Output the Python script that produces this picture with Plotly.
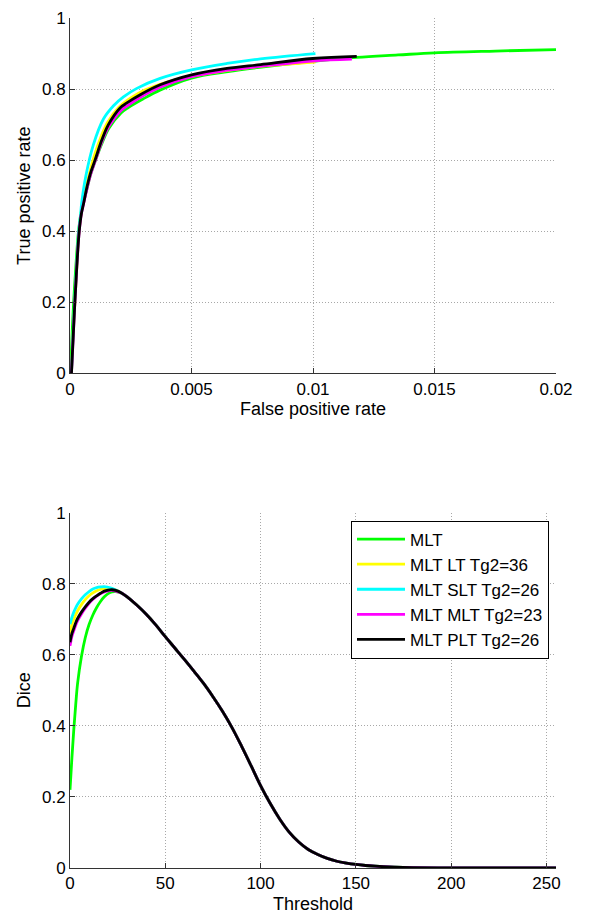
import plotly.graph_objects as go

# ---------------- ROC data (top panel) ----------------
roc_fpr_mlt = [0.00003, 0.00008, 0.00015, 0.00024, 0.00035, 0.00045, 0.00055, 0.0007, 0.00085, 0.00105,
               0.0013, 0.0016, 0.0021, 0.0024, 0.003, 0.0037, 0.005, 0.0065, 0.0078, 0.01, 0.0118,
               0.0135, 0.015, 0.0175, 0.02]
roc_tpr_mlt = [0, 0.1, 0.2, 0.3, 0.4, 0.45, 0.48, 0.52, 0.56, 0.6,
               0.645, 0.69, 0.733, 0.748, 0.772, 0.797, 0.831, 0.849, 0.861, 0.878, 0.889,
               0.896, 0.902, 0.907, 0.911]

roc_fpr_lt = [0.00006, 0.00012, 0.0002, 0.00028, 0.00037, 0.00046, 0.00052, 0.0007, 0.00099, 0.0013,
              0.00155, 0.002, 0.0025, 0.0031, 0.004, 0.005, 0.0065, 0.008, 0.0101]
roc_tpr_lt = [0, 0.1, 0.2, 0.3, 0.4, 0.45, 0.48, 0.535, 0.61, 0.67,
              0.707, 0.748, 0.775, 0.798, 0.82, 0.836, 0.853, 0.865, 0.876]

roc_fpr_slt = [0.00006, 0.00012, 0.00019, 0.00027, 0.00036, 0.00044, 0.00048, 0.00065, 0.00096, 0.00137,
               0.00179, 0.0022, 0.00275, 0.00371, 0.005, 0.00646, 0.00784, 0.0101]
roc_tpr_slt = [0, 0.1, 0.2, 0.3, 0.4, 0.45, 0.48, 0.555, 0.643, 0.715,
               0.753, 0.778, 0.802, 0.83, 0.854, 0.872, 0.885, 0.9]

roc_fpr_mltmlt = [0.00006, 0.00013, 0.0002, 0.00028, 0.00038, 0.00047, 0.00055, 0.0007, 0.00085, 0.00105,
                  0.0013, 0.0016, 0.0021, 0.0024, 0.0029, 0.0037, 0.005, 0.0065, 0.0078, 0.01, 0.0116]
roc_tpr_mltmlt = [0, 0.1, 0.2, 0.3, 0.4, 0.45, 0.475, 0.52, 0.56, 0.6,
                  0.65, 0.695, 0.74, 0.755, 0.777, 0.805, 0.835, 0.853, 0.864, 0.879, 0.884]

roc_fpr_plt = [0.00006, 0.00013, 0.0002, 0.00028, 0.00038, 0.00047, 0.00055, 0.0007, 0.00085, 0.00103,
               0.0013, 0.00158, 0.00206, 0.00234, 0.00289, 0.00371, 0.005, 0.00646, 0.00784, 0.00999,
               0.0118]
roc_tpr_plt = [0, 0.1, 0.2, 0.3, 0.4, 0.45, 0.475, 0.525, 0.565, 0.6,
               0.655, 0.7, 0.747, 0.761, 0.784, 0.812, 0.84, 0.858, 0.869, 0.886, 0.892]

# ---------------- Dice data (bottom panel) ----------------
thr_head = [0, 1, 2, 3, 4, 6, 8, 10, 12, 14, 16, 18, 20, 22, 24]
dice_head_mlt = [0.22, 0.31, 0.39, 0.46, 0.52, 0.595, 0.648, 0.685, 0.712, 0.733, 0.75, 0.763, 0.772,
                 0.777, 0.778]
dice_head_lt = [0.66, 0.685, 0.70, 0.713, 0.724, 0.741, 0.755, 0.766, 0.774, 0.78, 0.784, 0.786, 0.786,
                0.785, 0.782]
dice_head_slt = [0.686, 0.705, 0.72, 0.732, 0.742, 0.757, 0.769, 0.778, 0.785, 0.789, 0.791, 0.792, 0.79,
                 0.787, 0.782]
dice_head_mltmlt = [0.625, 0.652, 0.668, 0.683, 0.696, 0.715, 0.731, 0.745, 0.756, 0.765, 0.772, 0.777,
                    0.78, 0.781, 0.779]
dice_head_plt = [0.635, 0.66, 0.675, 0.69, 0.702, 0.72, 0.735, 0.748, 0.758, 0.766, 0.773, 0.779, 0.782,
                 0.783, 0.781]

thr_tail = [27, 30, 35, 40, 45, 50, 55, 60, 65, 70, 75, 80, 85, 90, 95, 100, 105, 110, 115, 120, 125,
            130, 135, 140, 145, 150, 155, 160, 170, 180, 200, 220, 255]
dice_tail = [0.774, 0.763, 0.74, 0.714, 0.684, 0.651, 0.619, 0.587, 0.554, 0.52, 0.482, 0.441, 0.395,
             0.343, 0.288, 0.232, 0.182, 0.138, 0.101, 0.073, 0.052, 0.038, 0.027, 0.019, 0.014, 0.01,
             0.007, 0.005, 0.0025, 0.0012, 0.0004, 0.0001, 0.0]

series_names = ["MLT", "MLT LT Tg2=36", "MLT SLT Tg2=26", "MLT MLT Tg2=23", "MLT PLT Tg2=26"]
series_colors = ["#00ff00", "#ffff00", "#00ffff", "#ff00ff", "#000000"]

roc_x = [roc_fpr_mlt, roc_fpr_lt, roc_fpr_slt, roc_fpr_mltmlt, roc_fpr_plt]
roc_y = [roc_tpr_mlt, roc_tpr_lt, roc_tpr_slt, roc_tpr_mltmlt, roc_tpr_plt]
dice_heads = [dice_head_mlt, dice_head_lt, dice_head_slt, dice_head_mltmlt, dice_head_plt]

fpr_ticks = [0, 0.005, 0.01, 0.015, 0.02]
fpr_ticklabels = ["0", "0.005", "0.01", "0.015", "0.02"]
thr_ticks = [0, 50, 100, 150, 200, 250]
thr_ticklabels = ["0", "50", "100", "150", "200", "250"]
y_ticks = [0, 0.2, 0.4, 0.6, 0.8, 1]
y_ticklabels = ["0", "0.2", "0.4", "0.6", "0.8", "1"]

FONT = "Liberation Sans, Arial, sans-serif"

fig = go.Figure()
for name, color, xs, ys in zip(series_names, series_colors, roc_x, roc_y):
    fig.add_trace(go.Scatter(x=xs, y=ys, mode="lines", name=name, showlegend=False,
                             line=dict(color=color, width=2.8, shape="spline", smoothing=1.0),
                             xaxis="x", yaxis="y"))
for name, color, head in zip(series_names, series_colors, dice_heads):
    fig.add_trace(go.Scatter(x=thr_head + thr_tail, y=head + dice_tail, mode="lines", name=name,
                             line=dict(color=color, width=2.8, shape="spline", smoothing=1.0),
                             xaxis="x2", yaxis="y2"))

axis_common = dict(
    showline=True, linecolor="#333333", linewidth=1, mirror=False,
    ticks="inside", ticklen=5, tickcolor="#333333",
    showgrid=True, gridcolor="#a8a8a8", griddash="1px,2px", gridwidth=1,
    zeroline=False, tickfont=dict(family=FONT, size=17, color="black"),
)

title_font = dict(family=FONT, size=18, color="black")

fig.update_layout(
    width=596, height=919, autosize=False,
    margin=dict(l=70, r=40, t=9, b=49),
    paper_bgcolor="white", plot_bgcolor="white",
    font=dict(family=FONT, color="black"),
    xaxis=dict(axis_common, range=[0, 0.02], tickvals=fpr_ticks, ticktext=fpr_ticklabels,
               domain=[0, 1], anchor="y",
               title=dict(text="False positive rate", font=title_font, standoff=4)),
    yaxis=dict(axis_common, range=[0, 1], tickvals=y_ticks, ticktext=y_ticklabels,
               domain=[0.5819, 1], anchor="x",
               title=dict(text="True positive rate", font=title_font, standoff=6)),
    xaxis2=dict(axis_common, range=[0, 255], tickvals=thr_ticks, ticktext=thr_ticklabels,
                domain=[0, 1], anchor="y2",
                title=dict(text="Threshold", font=title_font, standoff=4)),
    yaxis2=dict(axis_common, range=[0, 1], tickvals=y_ticks, ticktext=y_ticklabels,
                domain=[0, 0.4181], anchor="x2",
                title=dict(text="Dice", font=title_font, standoff=6)),
    legend=dict(x=0.9856, y=0.4088, xanchor="right", yanchor="top",
                bgcolor="white", bordercolor="black", borderwidth=1,
                font=dict(family=FONT, size=17, color="black"), itemwidth=48,
                tracegroupgap=0),
)

fig.write_html("out.html", config={"displayModeBar": False},
               post_script="document.body.style.margin='0px';document.body.style.overflow='hidden';")
